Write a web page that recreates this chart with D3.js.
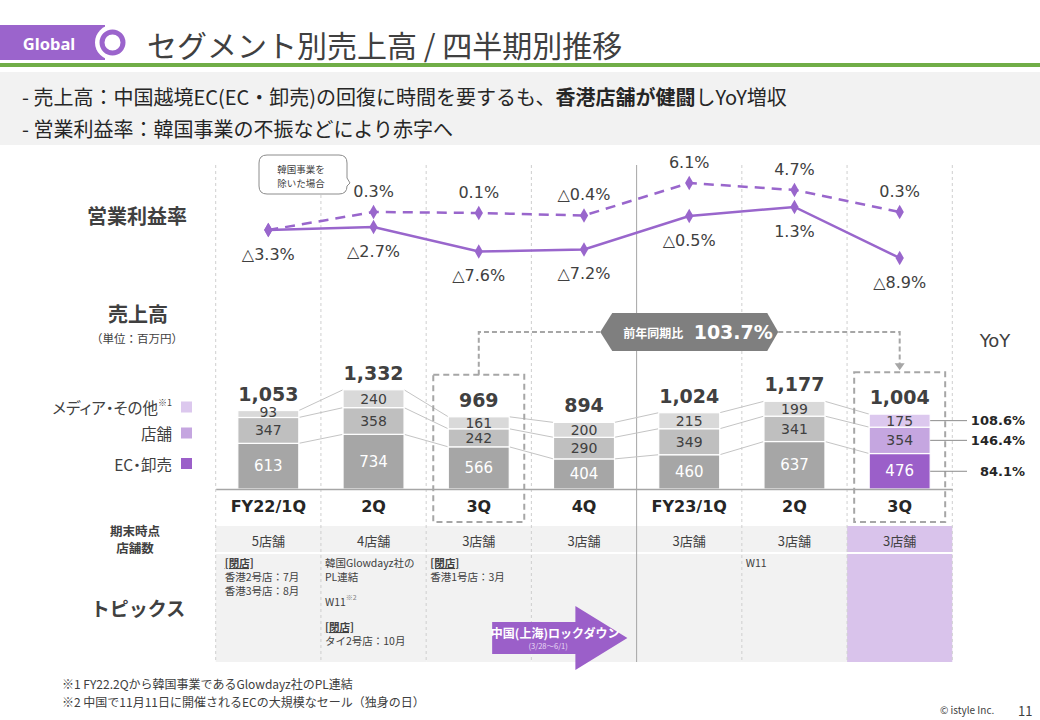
<!DOCTYPE html>
<html><head><meta charset="utf-8">
<script src="https://cdn.jsdelivr.net/npm/d3@7"></script>
<style>body{margin:0;background:#fff}svg{display:block}</style>
</head><body><svg id="c" width="1040" height="720"></svg>
<script>
// ---------------- data ----------------
const quarters = ["FY22/1Q","2Q","3Q","4Q","FY23/1Q","2Q","3Q"];
const ecWholesale = [613,734,566,404,460,637,476];
const stores = [347,358,242,290,349,341,354];
const mediaOther = [93,240,161,200,215,199,175];
const totals = [1053,1332,969,894,1024,1177,1004];
const opMargin = [-3.3,-2.7,-7.6,-7.2,-0.5,1.3,-8.9];
const opMarginExKorea = [-3.3,0.3,0.1,-0.4,6.1,4.7,0.3];
const storeCounts = ["5店舗","4店舗","3店舗","3店舗","3店舗","3店舗","3店舗"];
const segmentKeys = ["ec","store","media"];
const legendLabels = ["EC・卸売","店舗","メディア・その他"];
const yoyLatest = [84.1,146.4,108.6];   // EC, 店舗, メディア
const yoyTotal = 103.7;
const topics = [
  {col:0, lines:[["[閉店]","h"],["香港2号店：7月"],["香港3号店：8月"]]},
  {col:1, lines:[["韓国Glowdayz社の"],["PL連結"],[""],["W11","w"],[""],["[閉店]","h"],["タイ2号店：10月"]]},
  {col:2, lines:[["[閉店]","h"],["香港1号店：3月"]]},
  {col:5, lines:[["W11"]]}
];

// ---------------- setup ----------------
const JP = '"Noto Sans CJK JP", sans-serif';
const NUM = '"DejaVu Sans", sans-serif';
const TXT = "#404040";
const svg = d3.select("#c");
const idx = d3.range(quarters.length);
const last = quarters.length - 1;

const x = d3.scaleBand().domain(idx).range([215.7, 952.3]).paddingInner(0).paddingOuter(0);
const cx = i => x(i) + x.bandwidth()/2;
const barW = 61;
const yBar = d3.scaleLinear().domain([0, 1400]).range([489, 489 - 1400*0.0745]);
const yLine = d3.scaleLinear().domain([-10, 8]).range([263.5, 173.5]);

const grayCols = ["#a6a6a6","#bfbfbf","#d9d9d9"];
const purpCols = ["#9b5fc9","#c5a6e0","#dcc8ee"];
const PURPLE = "#9966cc";

// ---------------- header ----------------
svg.append("rect").attr("x",0).attr("y",25).attr("width",105).attr("height",35).attr("fill","#9b64cc");
svg.append("circle").attr("cx",112.5).attr("cy",42.5).attr("r",17.5).attr("fill","#fff");
svg.append("circle").attr("cx",112.5).attr("cy",42.5).attr("r",10.5).attr("fill","#fff").attr("stroke","#9b64cc").attr("stroke-width",5);
svg.append("text").attr("x",49).attr("y",43).attr("text-anchor","middle").attr("dominant-baseline","central")
  .attr("font-family",'"Noto Sans", sans-serif').attr("font-weight","bold").attr("font-size",16.5).attr("fill","#fff").text("Global");
svg.append("text").attr("x",147).attr("y",43.5).attr("dominant-baseline","central")
  .attr("font-family",JP).attr("font-size",30).attr("fill",TXT).text("セグメント別売上高 / 四半期別推移");
svg.append("rect").attr("x",0).attr("y",63).attr("width",1040).attr("height",4).attr("fill","#70ad47");
svg.append("rect").attr("x",0).attr("y",72).attr("width",1040).attr("height",73).attr("fill","#f2f2f2");
const b1 = svg.append("text").attr("x",22).attr("y",96).attr("dominant-baseline","central")
  .attr("font-family",JP).attr("font-size",20).attr("fill","#262626");
b1.append("tspan").text("-  売上高：中国越境EC(EC・卸売)の回復に時間を要するも、");
b1.append("tspan").attr("font-weight","bold").text("香港店舗が健闘");
b1.append("tspan").text("しYoY増収");
svg.append("text").attr("x",22).attr("y",128).attr("dominant-baseline","central")
  .attr("font-family",JP).attr("font-size",20).attr("fill","#262626").text("-  営業利益率：韓国事業の不振などにより赤字へ");

// ---------------- table backgrounds ----------------
idx.forEach(i => {
  const fill = i === last ? "#d9c3eb" : "#f2f2f2";
  svg.append("rect").attr("x",x(i)).attr("y",526).attr("width",x.bandwidth()).attr("height",26).attr("fill",fill);
  svg.append("rect").attr("x",x(i)).attr("y",554).attr("width",x.bandwidth()).attr("height",108).attr("fill",fill);
});

// ---------------- column dividers ----------------
const bounds = idx.map(i => x(i)).concat([x.range()[1]]);
bounds.forEach((bx, k) => {
  const solid = k === 4;
  svg.append("line").attr("x1",bx).attr("x2",bx).attr("y1",165).attr("y2",662)
    .attr("stroke", solid ? "#a6a6a6" : "#cfcfcf").attr("stroke-width",1)
    .attr("stroke-dasharray", solid ? null : "3,3");
});

// ---------------- left labels ----------------
const lbl = (t, xx, yy, size, weight, anchor) => svg.append("text").attr("x",xx).attr("y",yy)
  .attr("text-anchor",anchor||"middle").attr("dominant-baseline","central")
  .attr("font-family",JP).attr("font-size",size).attr("font-weight",weight||"normal").attr("fill",TXT).text(t);
const multi = (lines, xx, y0, step, size, weight, anchor) => {
  const t = svg.append("text").attr("x",xx).attr("y",y0).attr("text-anchor",anchor||"middle")
    .attr("dominant-baseline","central").attr("font-family",JP).attr("font-size",size)
    .attr("font-weight",weight||"normal").attr("fill",TXT);
  lines.forEach((s, k) => t.append("tspan").attr("x",xx).attr("dy", k ? step : 0).text(s));
  return t;
};
lbl("営業利益率",137,215,20,"bold");
lbl("売上高",138,313,20,"bold");
lbl("（単位：百万円）",137,338,11.5);
multi(["期末時点","店舗数"],135,530,17,12.5,"bold");
lbl("トピックス",138,607,19,"bold");

// legend
const legY = {media:407, store:433, ec:463.5};
segmentKeys.forEach((k, j) => {
  svg.append("rect").attr("x",181).attr("y",legY[k]-5.5).attr("width",11).attr("height",11).attr("fill",purpCols[j]);
  const t = lbl(legendLabels[j],172,legY[k],15.5,"normal","end").style("font-feature-settings",'"palt"');
  if (k === "media") t.append("tspan").attr("font-size",9).attr("dy",-5).text("※1");
});

// ---------------- stacked bars ----------------
const rows = idx.map(i => ({i, ec: ecWholesale[i], store: stores[i], media: mediaOther[i]}));
const stack = d3.stack().keys(segmentKeys)(rows);

// connectors
stack.forEach(layer => {
  for (let i = 0; i < last; i++) {
    svg.append("line")
      .attr("x1", cx(i)+barW/2).attr("y1", yBar(layer[i][1]))
      .attr("x2", cx(i+1)-barW/2).attr("y2", yBar(layer[i+1][1]))
      .attr("stroke","#c4c4c4").attr("stroke-width",1);
  }
});

stack.forEach((layer, j) => {
  svg.append("g").selectAll("rect").data(layer).join("rect")
    .attr("x", d => cx(d.data.i) - barW/2)
    .attr("width", barW)
    .attr("y", d => yBar(d[1]))
    .attr("height", d => yBar(d[0]) - yBar(d[1]))
    .attr("fill", d => d.data.i === last ? purpCols[j] : grayCols[j])
    .attr("stroke","#fff").attr("stroke-width",1.2);
  svg.append("g").selectAll("text").data(layer).join("text")
    .attr("x", d => cx(d.data.i))
    .attr("y", d => (yBar(d[0]) + yBar(d[1]))/2 + (j === 2 && d.data[segmentKeys[j]] < 120 ? -2 : 0))
    .attr("text-anchor","middle").attr("dominant-baseline","central")
    .attr("font-family",NUM).attr("font-size", j === 0 ? 15 : 14)
    .attr("fill", j === 0 ? "#fff" : TXT)
    .text(d => d3.format(",")(d.data[segmentKeys[j]]));
});

// totals
svg.append("g").selectAll("text").data(idx).join("text")
  .attr("x", i => cx(i)).attr("y", i => yBar(totals[i]) - 17)
  .attr("text-anchor","middle").attr("dominant-baseline","central")
  .attr("font-family",NUM).attr("font-weight","bold").attr("font-size",19).attr("fill",TXT)
  .text(i => d3.format(",")(totals[i]));

// x axis with quarter labels
const axis = svg.append("g").attr("transform","translate(0,489)")
  .call(d3.axisBottom(x).tickSize(0).tickPadding(12).tickFormat(i => quarters[i]));
axis.select(".domain").attr("stroke","#a6a6a6").attr("stroke-width",1.5);
axis.selectAll("text").attr("font-family",NUM).attr("font-weight","bold").attr("font-size",16).attr("fill","#262626");

// store counts
svg.append("g").selectAll("text").data(idx).join("text")
  .attr("x", i => cx(i)).attr("y",540).attr("text-anchor","middle").attr("dominant-baseline","central")
  .attr("font-family",JP).attr("font-size",13).attr("fill",TXT).text(i => storeCounts[i]);

// ---------------- highlight boxes & YoY badge ----------------
const hiCols = [2, last];
const boxTop = i => yBar(totals[i]) - 42;
hiCols.forEach(i => {
  svg.append("rect").attr("x", cx(i)-45.5).attr("y", boxTop(i)).attr("width",91).attr("height", 522-boxTop(i))
    .attr("fill","none").attr("stroke","#a6a6a6").attr("stroke-width",2).attr("stroke-dasharray","6,4");
});
const badgeY = 332, badgeL = cx(4)-89, badgeR = cx(4)+89;
svg.append("path").attr("d", `M${cx(2)},${boxTop(2)} V${badgeY} H${badgeL}`)
  .attr("fill","none").attr("stroke","#a6a6a6").attr("stroke-width",2).attr("stroke-dasharray","5,3");
svg.append("path").attr("d", `M${badgeR},${badgeY} H${cx(last)} V${boxTop(last)-8}`)
  .attr("fill","none").attr("stroke","#a6a6a6").attr("stroke-width",2).attr("stroke-dasharray","5,3");
svg.append("path").attr("d", `M${cx(last)-5},${boxTop(last)-9} L${cx(last)+5},${boxTop(last)-9} L${cx(last)},${boxTop(last)-2} Z`)
  .attr("fill","#a6a6a6");
svg.append("path").attr("d", `M${badgeL},${badgeY} L${badgeL+12},${badgeY-19} L${badgeR-11},${badgeY-19} L${badgeR},${badgeY} L${badgeR-11},${badgeY+19} L${badgeL+12},${badgeY+19} Z`)
  .attr("fill","#7f7f7f");
svg.append("text").attr("x",badgeL+53).attr("y",badgeY+0.5).attr("text-anchor","middle").attr("dominant-baseline","central")
  .attr("font-family",JP).attr("font-weight","bold").attr("font-size",12).attr("fill","#fff").text("前年同期比");
svg.append("text").attr("x",badgeL+133).attr("y",badgeY).attr("text-anchor","middle").attr("dominant-baseline","central")
  .attr("font-family",NUM).attr("font-weight","bold").attr("font-size",19).attr("fill","#fff").text(yoyTotal.toFixed(1) + "%");

// YoY column
svg.append("text").attr("x",995).attr("y",340).attr("text-anchor","middle").attr("dominant-baseline","central")
  .attr("font-family",NUM).attr("font-size",18).attr("fill",TXT).text("YoY");
stack.forEach((layer, j) => {
  const d = layer[last];
  const yy = (yBar(d[0]) + yBar(d[1]))/2;
  svg.append("line").attr("x1",cx(last)+barW/2).attr("x2",967).attr("y1",yy).attr("y2",yy)
    .attr("stroke","#8c8c8c").attr("stroke-width",1);
  svg.append("text").attr("x",1025).attr("y",yy).attr("text-anchor","end").attr("dominant-baseline","central")
    .attr("font-family",NUM).attr("font-weight","bold").attr("font-size",13).attr("fill","#262626")
    .text(yoyLatest[j].toFixed(1) + "%");
});

// ---------------- operating margin lines ----------------
const fmtPct = v => (v < 0 ? "△" + Math.abs(v).toFixed(1) : v.toFixed(1)) + "%";
const line = d3.line().x(i => cx(i));
svg.append("path").attr("d", line.y(i => yLine(opMarginExKorea[i]))(idx))
  .attr("fill","none").attr("stroke",PURPLE).attr("stroke-width",2.5).attr("stroke-dasharray","10,7");
svg.append("path").attr("d", line.y(i => yLine(opMargin[i]))(idx))
  .attr("fill","none").attr("stroke",PURPLE).attr("stroke-width",2.5);
const diamond = d3.symbol().type(d3.symbolDiamond).size(60);
[opMarginExKorea, opMargin].forEach(series => {
  svg.append("g").selectAll("path").data(idx).join("path")
    .attr("transform", i => `translate(${cx(i)},${yLine(series[i])})`)
    .attr("d", diamond).attr("fill", PURPLE);
});
svg.append("g").selectAll("text").data(idx).join("text")
  .attr("x", i => cx(i)).attr("y", i => yLine(opMargin[i]) + 24)
  .attr("text-anchor","middle").attr("dominant-baseline","central")
  .attr("font-family",NUM).attr("font-size",16).attr("fill",TXT).text(i => fmtPct(opMargin[i]));
svg.append("g").selectAll("text").data(idx.slice(1)).join("text")
  .attr("x", i => cx(i)).attr("y", i => yLine(opMarginExKorea[i]) - 21)
  .attr("text-anchor","middle").attr("dominant-baseline","central")
  .attr("font-family",NUM).attr("font-size",16).attr("fill",TXT).text(i => fmtPct(opMarginExKorea[i]));

// callout
svg.append("path").attr("d","M267,155 H339 Q347,155 347,163 V178 L350,183 L347,186 V186 Q347,194 339,194 H267 Q259,194 259,186 V163 Q259,155 267,155 Z")
  .attr("fill","#fff").attr("stroke","#8c8c8c").attr("stroke-width",1);
lbl("韓国事業を",301,168.5,9.5);
lbl("除いた場合",301,182.5,9.5);

// ---------------- topics ----------------
topics.forEach(tp => {
  const x0 = x(tp.col) + (tp.col === 0 ? 9 : 4);
  const t = svg.append("text").attr("x",x0).attr("y",562).attr("dominant-baseline","central")
    .attr("font-family",JP).attr("font-size",10.5).attr("fill",TXT);
  let dy = 0, first = true;
  tp.lines.forEach(ln => {
    if (!ln[0]) { dy += 11; return; }
    const s = t.append("tspan").attr("x",x0).attr("dy", first ? 0 : dy).text(ln[0]);
    if (ln[1] === "h") s.attr("font-weight","bold").attr("text-decoration","underline");
    if (ln[1] === "w") t.append("tspan").attr("font-size",7).attr("dy",-4).attr("fill","#808080").text("※2");
    dy = ln[1] === "w" ? 18 : 14;
    first = false;
  });
});

// lockdown arrow (spans 3Q-4Q)
const ax0 = x(2) + 66, ax1 = x(3) + 96, ah = ax1 - 52, acy = 638;
svg.append("path").attr("d", `M${ax0},${acy-16} H${ah} V${acy-32} L${ax1},${acy} L${ah},${acy+32} V${acy+16} H${ax0} Z`)
  .attr("fill","#9b5fc9");
svg.append("text").attr("x",ax0+63).attr("y",acy-6).attr("text-anchor","middle").attr("dominant-baseline","central")
  .attr("font-family",JP).attr("font-weight","bold").attr("font-size",12).attr("fill","#fff").text("中国(上海)ロックダウン");
svg.append("text").attr("x",ax0+56).attr("y",acy+7).attr("text-anchor","middle").attr("dominant-baseline","central")
  .attr("font-family",JP).attr("font-size",7.5).attr("fill","#eadcf5").text("(3/28～6/1)");

// ---------------- footnotes ----------------
lbl("※1 FY22.2Qから韓国事業であるGlowdayz社のPL連結",62,683,12,"normal","start");
lbl("※2 中国で11月11日に開催されるECの大規模なセール（独身の日）",62,701,12,"normal","start");
lbl("© istyle Inc.",940,709,10,"normal","start");
lbl("11",1018,710,13,"normal","start");
</script></body></html>
